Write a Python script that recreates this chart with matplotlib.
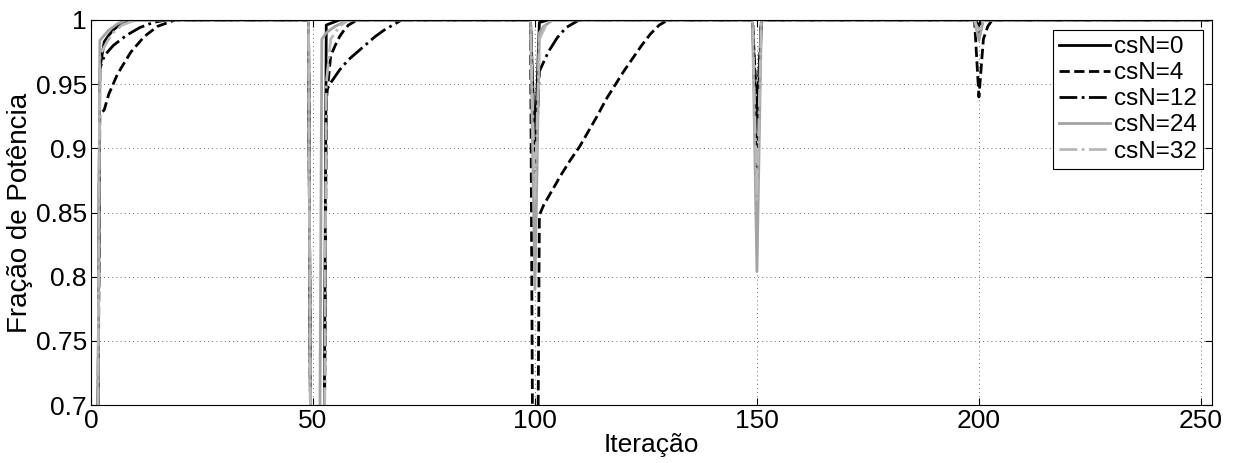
import matplotlib.pyplot as plt
from matplotlib.ticker import FuncFormatter

plt.rcParams['font.family'] = ['Liberation Sans', 'DejaVu Sans']

# (iteration, power fraction) samples for each cluster size; flat stretches at 1
# are bridged by the line between the listed points
it_cs0 = [1, 2, 3, 4, 5, 6, 8, 10, 49, 50, 51, 52, 53, 56,
          99, 100, 101, 103, 149, 150, 151, 199, 200, 201, 252]
pf_cs0 = [0.30, 0.962, 0.983, 0.988, 0.992, 0.995, 0.998, 1.0, 1.0, 0.30, 0.30, 0.30, 0.996, 1.0,
          1.0, 0.90, 0.998, 1.0, 1.0, 0.885, 1.0, 1.0, 0.996, 1.0, 1.0]

it_cs4 = [1, 2, 3, 4, 6, 9, 12, 15, 19, 49, 50, 51, 52, 53, 54, 55, 56, 57, 58, 60,
          99, 100, 101, 102, 104, 106, 108, 110, 112, 114, 116, 118, 120, 122, 124, 126, 128, 130,
          149, 150, 151, 152, 199, 200, 201, 202, 203, 252]
pf_cs4 = [0.30, 0.926, 0.930, 0.942, 0.958, 0.975, 0.987, 0.995, 1.0, 1.0, 0.30, 0.30, 0.30, 0.937,
          0.972, 0.980, 0.987, 0.992, 0.996, 1.0,
          1.0, 0.30, 0.848, 0.856, 0.868, 0.880, 0.891, 0.901, 0.913, 0.925, 0.938, 0.949, 0.960,
          0.970, 0.980, 0.989, 0.996, 1.0,
          1.0, 0.93, 0.997, 1.0, 1.0, 0.94, 0.985, 0.995, 1.0, 1.0]

it_cs12 = [1, 2, 3, 5, 8, 11, 14, 17, 49, 50, 51, 52, 53, 54, 56, 58, 60, 62, 64, 66, 68, 70,
           99, 100, 101, 103, 105, 107, 110, 149, 150, 151, 199, 200, 201, 252]
pf_cs12 = [0.30, 0.962, 0.972, 0.980, 0.988, 0.994, 0.998, 1.0, 1.0, 0.30, 0.30, 0.30, 0.945,
           0.951, 0.961, 0.969, 0.975, 0.981, 0.987, 0.992, 0.996, 1.0,
           1.0, 0.87, 0.960, 0.975, 0.986, 0.994, 1.0, 1.0, 0.915, 1.0, 1.0, 0.99, 1.0, 1.0]

it_cs24 = [1, 2, 3, 4, 6, 8, 49, 50, 51, 52, 53, 55, 58,
           99, 100, 101, 102, 104, 149, 150, 151, 199, 200, 201, 252]
pf_cs24 = [0.30, 0.984, 0.988, 0.992, 0.997, 1.0, 1.0, 0.30, 0.30, 0.985, 0.990, 0.995, 1.0,
           1.0, 0.79, 0.990, 0.995, 1.0, 1.0, 0.804, 1.0, 1.0, 0.984, 1.0, 1.0]

it_cs32 = [1, 2, 3, 4, 5, 7, 10, 49, 50, 51, 52, 53, 54, 56, 58,
           99, 100, 101, 103, 149, 150, 151, 199, 200, 201, 252]
pf_cs32 = [0.30, 0.972, 0.979, 0.985, 0.990, 0.996, 1.0, 1.0, 0.30, 0.30, 0.30, 0.950, 0.985,
           0.995, 1.0, 1.0, 0.86, 0.985, 1.0, 1.0, 0.86, 1.0, 1.0, 0.99, 1.0, 1.0]

labels = ['csN=0', 'csN=4', 'csN=12', 'csN=24', 'csN=32']
x_ticks = [0, 50, 100, 150, 200, 250]
y_ticks = [0.7, 0.75, 0.8, 0.85, 0.9, 0.95, 1.0]

fig = plt.figure(figsize=(12.34, 4.63), dpi=100)
ax = fig.add_axes([0.0737, 0.125, 0.9085, 0.832])

lw = 2.0
ax.plot(it_cs0, pf_cs0, color='black', linestyle='-', lw=lw, label=labels[0])
ax.plot(it_cs4, pf_cs4, color='black', linestyle='--', lw=lw, label=labels[1])
ax.plot(it_cs12, pf_cs12, color='black', linestyle='-.', lw=lw, label=labels[2])
ax.plot(it_cs24, pf_cs24, color='#a3a3a3', linestyle='-', lw=lw, label=labels[3])
ax.plot(it_cs32, pf_cs32, color='#b8b8b8', linestyle='-.', lw=lw, label=labels[4])

ax.set_xlim(0, 252.5)
ax.set_ylim(0.7, 1.0)
ax.set_xticks(x_ticks)
ax.set_yticks(y_ticks)
ax.yaxis.set_major_formatter(FuncFormatter(lambda v, p: '%g' % round(v, 2)))

ax.grid(True, linestyle=(0, (1, 4)), color='#404040', linewidth=0.6)
ax.tick_params(direction='in', top=True, right=True, labelsize=19, length=5, width=0.8, pad=3)
for s in ax.spines.values():
    s.set_linewidth(0.8)

ax.set_xlabel('Iteração', fontsize=19, labelpad=0)
ax.set_ylabel('Fração de Potência', fontsize=20, labelpad=2)

leg = ax.legend(loc='upper right', bbox_to_anchor=(0.992, 0.974), borderaxespad=0,
                fontsize=17.5, fancybox=False, framealpha=1, edgecolor='black',
                handlelength=2.1, handletextpad=0.15, labelspacing=0.17,
                borderpad=0.25)
leg.get_frame().set_linewidth(0.8)

fig.savefig('out.png', dpi=100)
